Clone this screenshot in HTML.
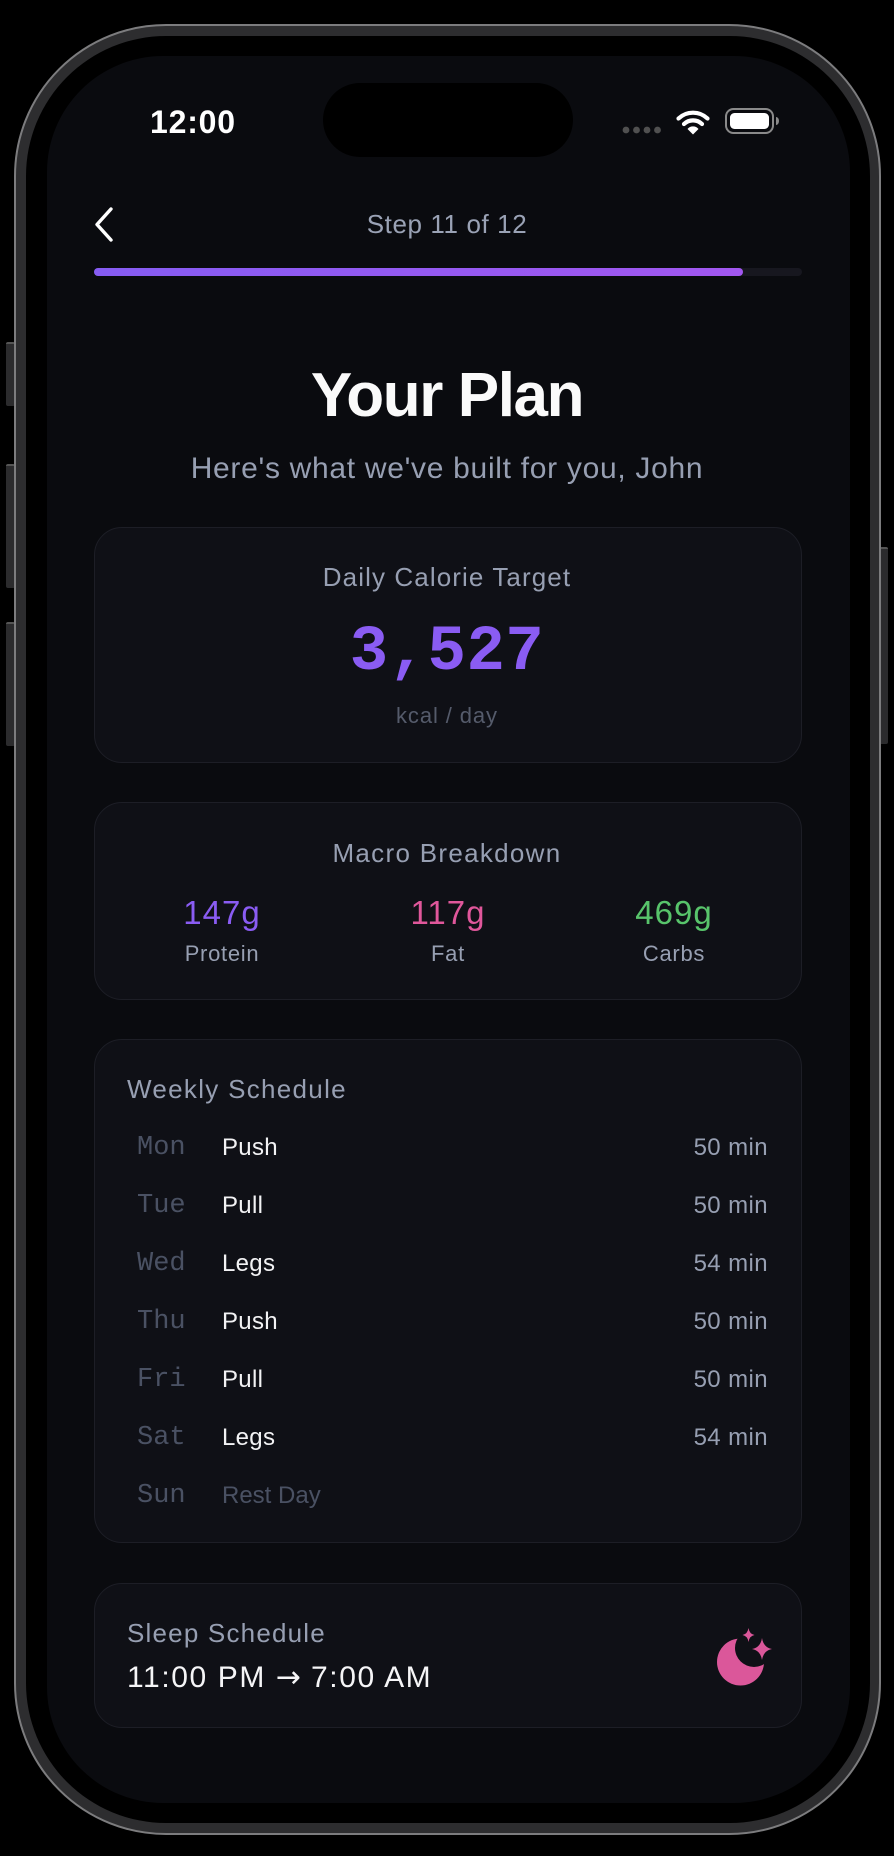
<!DOCTYPE html>
<html><head><meta charset="utf-8">
<style>
*{margin:0;padding:0;box-sizing:border-box}
html,body{width:894px;height:1856px;background:#000;overflow:hidden}
body{position:relative;font-family:"Liberation Sans",sans-serif}
.abs{position:absolute;white-space:nowrap}
.btn{position:absolute;background:#2b2b2d;border-top:2px solid #555;border-radius:2px}
#frame{position:absolute;left:14px;top:24px;width:867px;height:1811px;border-radius:152px;background:#2d2d2f;border:2px solid #7c7c7e}
#bezel{position:absolute;left:26px;top:36px;width:844px;height:1787px;border-radius:140px;background:#000}
#screen{position:absolute;left:47px;top:56px;width:803px;height:1747px;border-radius:116px;background:#0a0b0f;overflow:hidden}
.card{position:absolute;left:94px;width:708px;background:#0f1016;border:1.5px solid #1d1e26;border-radius:28px}
.c{text-align:center}
.gray{color:#979fb2}
.mono{font-family:"Liberation Mono",monospace}
.day{font-family:"Liberation Mono",monospace;font-size:27px;line-height:27px;color:#4a5163;left:137px}
.wk{font-size:24px;line-height:24px;color:#f2f2f4;left:222px;letter-spacing:0.3px}
.dur{font-size:24px;line-height:24px;color:#979fb2;right:126px;letter-spacing:0.4px}
</style></head><body>
<div class="btn" style="left:6px;top:342px;width:9px;height:64px"></div>
<div class="btn" style="left:6px;top:464px;width:9px;height:124px"></div>
<div class="btn" style="left:6px;top:622px;width:9px;height:124px"></div>
<div class="btn" style="left:879px;top:547px;width:9px;height:197px"></div>
<div id="frame"></div>
<div id="bezel"></div>
<div id="screen"></div>

<!-- dynamic island -->
<div class="abs" style="left:323px;top:83px;width:250px;height:74px;border-radius:37px;background:#000"></div>

<!-- status bar -->
<div class="abs" style="left:150px;top:106px;font-size:32px;line-height:32px;font-weight:700;color:#fff;letter-spacing:0.8px">12:00</div>
<svg class="abs" style="left:600px;top:90px" width="200" height="60" viewBox="600 90 200 60">
  <circle cx="626" cy="130" r="3.4" fill="#505050"/>
  <circle cx="636.5" cy="130" r="3.4" fill="#505050"/>
  <circle cx="647" cy="130" r="3.4" fill="#505050"/>
  <circle cx="657.5" cy="130" r="3.4" fill="#505050"/>
  <g fill="none" stroke="#fff" stroke-width="4.2" stroke-linecap="round">
    <path d="M678.5 118.5 A21 21 0 0 1 707.5 118.5"/>
    <path d="M684 124 A13 13 0 0 1 702 124"/>
  </g>
  <path d="M687.5 129 A7 7 0 0 1 698.5 129 L693 134.5 Z" fill="#fff"/>
  <rect x="726" y="109" width="47" height="24" rx="7.5" fill="none" stroke="#8a8a8a" stroke-width="2"/>
  <rect x="730" y="113" width="39" height="16" rx="4.5" fill="#fff"/>
  <path d="M776 117 a3 4 0 0 1 0 8 z" fill="#8a8a8a"/>
</svg>

<!-- nav -->
<svg class="abs" style="left:91px;top:205px" width="28" height="40" viewBox="0 0 28 40">
  <path d="M20 4 L6 19.5 L20 35" fill="none" stroke="#fff" stroke-width="3.4" stroke-linecap="round" stroke-linejoin="round"/>
</svg>
<div class="abs c gray" style="left:0;width:894px;top:211px;font-size:26px;line-height:26px;color:#9aa2b5;letter-spacing:0.6px">Step 11 of 12</div>
<div class="abs" style="left:94px;top:268px;width:708px;height:8px;border-radius:4px;background:#17171f"></div>
<div class="abs" style="left:94px;top:268px;width:649px;height:8px;border-radius:4px;background:linear-gradient(90deg,#865cf2,#a257f0)"></div>

<!-- title -->
<div class="abs c" style="left:0;width:894px;top:365px;font-size:62px;line-height:62px;font-weight:700;color:#fafafa;letter-spacing:-1.4px">Your Plan</div>
<div class="abs c" style="left:0;width:894px;top:454px;font-size:30px;line-height:30px;color:#979fb2;letter-spacing:0.7px">Here's what we've built for you, John</div>

<!-- calorie card -->
<div class="card" style="top:527px;height:236px"></div>
<div class="abs c gray" style="left:0;width:894px;top:564px;font-size:26px;line-height:26px;letter-spacing:1.1px">Daily Calorie Target</div>
<div class="abs c mono" style="left:0;width:894px;top:621px;font-size:64px;line-height:64px;font-weight:700;color:#8a5cf3;letter-spacing:0.5px">3,527</div>
<div class="abs c" style="left:0;width:894px;top:705px;font-size:22px;line-height:22px;color:#555b6b;letter-spacing:0.9px">kcal / day</div>

<!-- macro card -->
<div class="card" style="top:802px;height:198px"></div>
<div class="abs c gray" style="left:0;width:894px;top:840px;font-size:26px;line-height:26px;letter-spacing:1.3px">Macro Breakdown</div>
<div class="abs c" style="left:109px;width:226px;top:896px;font-size:33px;line-height:33px;color:#8a5cf3;letter-spacing:1px">147g</div>
<div class="abs c gray" style="left:109px;width:226px;top:943px;font-size:22px;line-height:22px;letter-spacing:0.7px">Protein</div>
<div class="abs c" style="left:335px;width:226px;top:896px;font-size:33px;line-height:33px;color:#e0579b;letter-spacing:1px">117g</div>
<div class="abs c gray" style="left:335px;width:226px;top:943px;font-size:22px;line-height:22px;letter-spacing:0.7px">Fat</div>
<div class="abs c" style="left:561px;width:226px;top:896px;font-size:33px;line-height:33px;color:#58c46b;letter-spacing:1px">469g</div>
<div class="abs c gray" style="left:561px;width:226px;top:943px;font-size:22px;line-height:22px;letter-spacing:0.7px">Carbs</div>

<!-- weekly card -->
<div class="card" style="top:1039px;height:504px"></div>
<div class="abs gray" style="left:127px;top:1076px;font-size:26px;line-height:26px;letter-spacing:1.3px">Weekly Schedule</div>

<div class="abs day" style="top:1135px">Mon</div>
<div class="abs wk" style="top:1136px">Push</div>
<div class="abs dur" style="top:1136px">50 min</div>

<div class="abs day" style="top:1193px">Tue</div>
<div class="abs wk" style="top:1194px">Pull</div>
<div class="abs dur" style="top:1194px">50 min</div>

<div class="abs day" style="top:1251px">Wed</div>
<div class="abs wk" style="top:1252px">Legs</div>
<div class="abs dur" style="top:1252px">54 min</div>

<div class="abs day" style="top:1309px">Thu</div>
<div class="abs wk" style="top:1310px">Push</div>
<div class="abs dur" style="top:1310px">50 min</div>

<div class="abs day" style="top:1367px">Fri</div>
<div class="abs wk" style="top:1368px">Pull</div>
<div class="abs dur" style="top:1368px">50 min</div>

<div class="abs day" style="top:1425px">Sat</div>
<div class="abs wk" style="top:1426px">Legs</div>
<div class="abs dur" style="top:1426px">54 min</div>

<div class="abs day" style="top:1483px">Sun</div>
<div class="abs wk" style="top:1484px;color:#4a5163;letter-spacing:0">Rest Day</div>

<!-- sleep card -->
<div class="card" style="top:1583px;height:145px"></div>
<div class="abs gray" style="left:127px;top:1620px;font-size:26px;line-height:26px;letter-spacing:1.2px">Sleep Schedule</div>
<div class="abs" style="left:127px;top:1663px;font-size:30px;line-height:30px;color:#f5f5f7;letter-spacing:1.6px">11:00 PM <span style="font-family:'DejaVu Sans',sans-serif;font-size:30px;letter-spacing:0">→</span> 7:00 AM</div>
<svg class="abs" style="left:705px;top:1625px" width="70" height="70" viewBox="705 1625 70 70">
  <defs><mask id="m"><rect x="705" y="1625" width="70" height="70" fill="#fff"/><circle cx="754" cy="1648" r="19" fill="#000"/></mask></defs>
  <circle cx="740.5" cy="1662" r="23.5" fill="#db579a" mask="url(#m)"/>
  <path d="M762 1638 Q763.5 1647.5 772 1649 Q763.5 1650.5 762 1660 Q760.5 1650.5 752 1649 Q760.5 1647.5 762 1638 Z" fill="#db579a"/>
  <path d="M748.5 1628 Q749.4 1634 754.5 1635 Q749.4 1636 748.5 1642 Q747.6 1636 742.5 1635 Q747.6 1634 748.5 1628 Z" fill="#db579a"/>
</svg>
</body></html>
